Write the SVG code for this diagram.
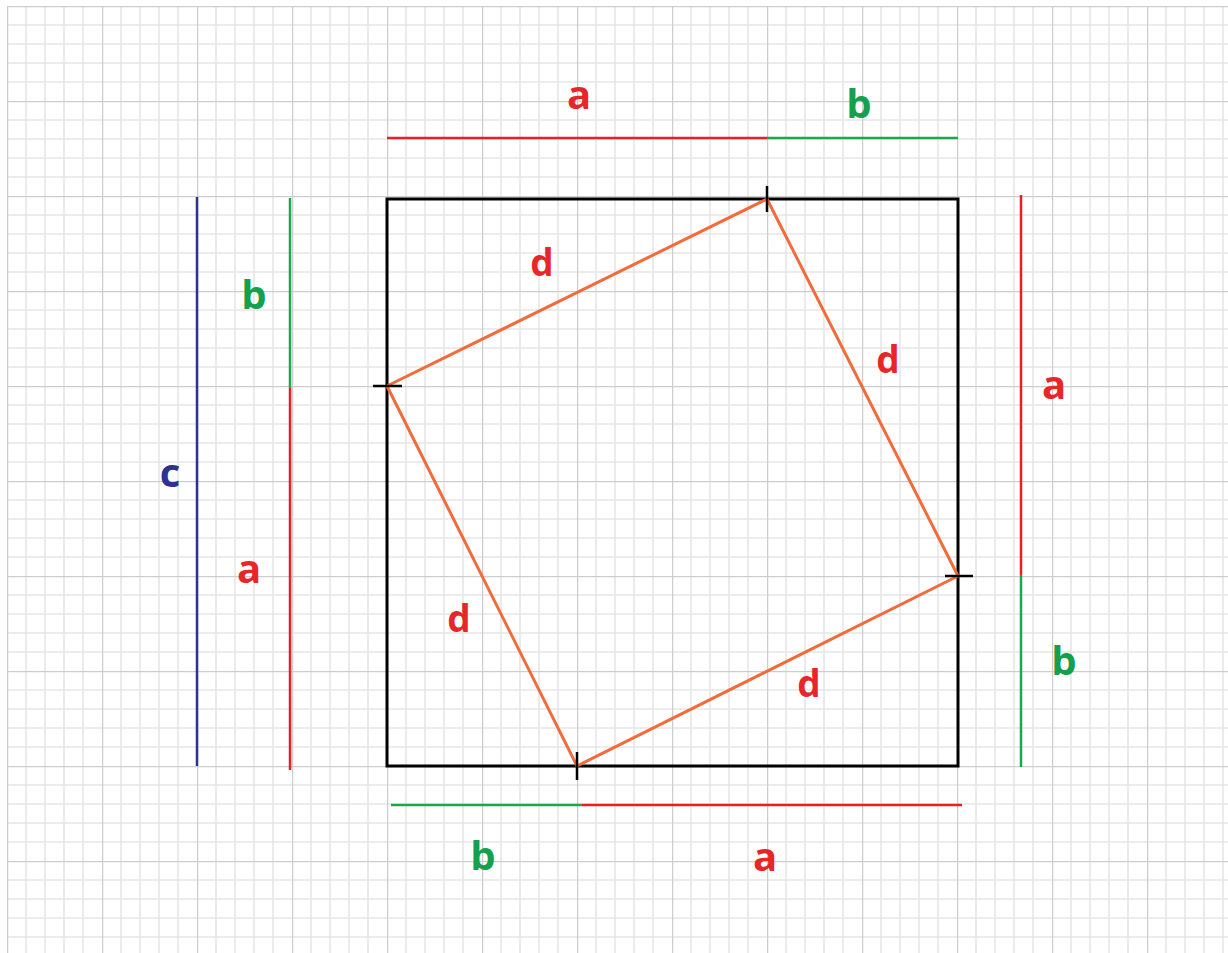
<svg xmlns="http://www.w3.org/2000/svg" width="1228" height="953" viewBox="0 0 1228 953">
  <defs>
    <pattern id="grid" x="7" y="6" width="95" height="95" patternUnits="userSpaceOnUse">
      <path d="M19 0V95M38 0V95M57 0V95M76 0V95M0 19H95M0 38H95M0 57H95M0 76H95" stroke="#e6e6e6" stroke-width="1.6" fill="none"/>
      <path d="M0.5 0V95M0 0.5H95" stroke="#cdcdcd" stroke-width="1.5" fill="none"/>
    </pattern>
    <style>
      .lbl { font-family: "Open Sans", "DejaVu Sans", sans-serif; font-weight: bold; text-anchor: middle; }
      .red { fill: #e8262a; }
      .green { fill: #15a04e; }
      .blue { fill: #2e3192; }
      .ab { font-size: 40px; }
      .dd { font-size: 37px; }
      .box { fill: none; stroke: #000; stroke-width: 3; }
      .tick { stroke: #000; stroke-width: 2.5; }
      .tilt { fill: none; stroke: #f26b3a; stroke-width: 3; stroke-linejoin: round; }
      .lr { stroke: #ee1c24; stroke-width: 2.5; }
      .lg { stroke: #19a84a; stroke-width: 2.5; }
      .lb { stroke: #2e3192; stroke-width: 2.5; }
    </style>
  </defs>
  <rect width="1228" height="953" fill="#fff"/>
  <rect x="7" y="6" width="1221" height="947" fill="url(#grid)"/>

  <g id="outer-square">
    <rect class="box" x="387" y="199" width="571" height="567"/>
  </g>
  <g id="inner-square">
    <polygon class="tilt" points="767,199 958,576 577,766 387,386"/>
  </g>
  <g id="ticks">
    <line class="tick" x1="767" y1="186" x2="767" y2="212"/>
    <line class="tick" x1="373" y1="386" x2="402" y2="386"/>
    <line class="tick" x1="945" y1="576" x2="973" y2="576"/>
    <line class="tick" x1="577" y1="752" x2="577" y2="780"/>
  </g>

  <g id="connectors">
    <line class="lr" x1="387" y1="138" x2="767" y2="138"/>
    <line class="lg" x1="767" y1="138" x2="958" y2="138"/>
    <line class="lb" x1="197" y1="197" x2="197" y2="766"/>
    <line class="lg" x1="290" y1="198" x2="290" y2="388"/>
    <line class="lr" x1="290" y1="388" x2="290" y2="770"/>
    <line class="lr" x1="1021" y1="195" x2="1021" y2="575"/>
    <line class="lg" x1="1021" y1="575" x2="1021" y2="767"/>
    <line class="lg" x1="391" y1="805" x2="582" y2="805"/>
    <line class="lr" x1="582" y1="805" x2="962" y2="805"/>
  </g>

  <g id="labels">
    <text class="lbl ab red" x="579" y="109">a</text>
    <text class="lbl ab green" x="859" y="118">b</text>
    <text class="lbl ab green" x="254" y="309">b</text>
    <text class="lbl ab blue" x="170" y="487">c</text>
    <text class="lbl ab red" x="249" y="583">a</text>
    <text class="lbl ab red" x="1054" y="399">a</text>
    <text class="lbl ab green" x="1064" y="675">b</text>
    <text class="lbl ab green" x="483" y="870">b</text>
    <text class="lbl ab red" x="765" y="871">a</text>
    <text class="lbl dd red" x="542" y="276">d</text>
    <text class="lbl dd red" x="888" y="373">d</text>
    <text class="lbl dd red" x="459" y="632">d</text>
    <text class="lbl dd red" x="809" y="697">d</text>
  </g>
</svg>
